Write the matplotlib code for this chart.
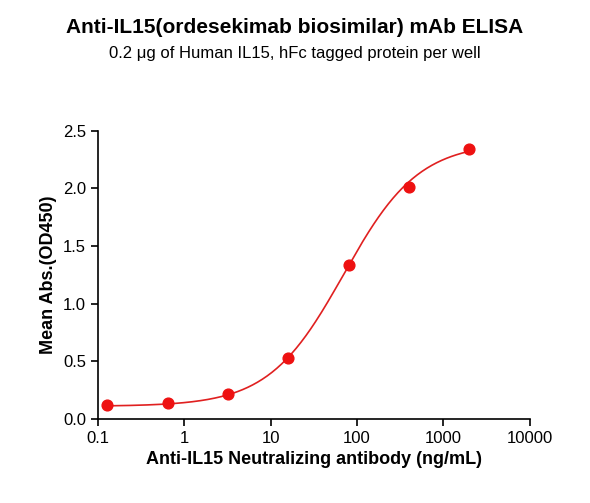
import numpy as np
import matplotlib
matplotlib.use('Agg')
import matplotlib.pyplot as plt

plt.rcParams['font.family'] = ['Liberation Sans', 'DejaVu Sans']

# data
conc = [0.128, 0.64, 3.2, 16, 80, 400, 2000]
absorb = [0.12, 0.14, 0.22, 0.53, 1.34, 2.01, 2.34]
# 4PL fit parameters (bottom, top, ec50, hill) estimated from the curve
fit_bottom, fit_top, fit_ec50, fit_hill = 0.11, 2.40, 70.0, 1.0

fig = plt.figure(figsize=(5.90, 5.03), dpi=100, facecolor='white')
ax = fig.add_axes([0.166, 0.167, 0.732, 0.573])

xs = np.logspace(np.log10(conc[0]), np.log10(conc[-1]), 300)
ys = fit_bottom + (fit_top - fit_bottom) / (1 + (fit_ec50 / xs) ** fit_hill)
ax.plot(xs, ys, color='#e02020', lw=1.2, zorder=2)
ax.scatter(conc, absorb, s=60, color='#ee1111', zorder=3)

ax.set_xscale('log')
ax.set_xlim(0.1, 10000)
ax.set_ylim(0, 2.5)
ax.set_xticks([0.1, 1, 10, 100, 1000, 10000])
ax.set_xticklabels(['0.1', '1', '10', '100', '1000', '10000'])
ax.set_yticks([0, 0.5, 1.0, 1.5, 2.0, 2.5])
ax.set_yticklabels(['0.0', '0.5', '1.0', '1.5', '2.0', '2.5'])
ax.minorticks_off()
ax.tick_params(labelsize=12, width=1.2, length=5)
for s in ['top', 'right']:
    ax.spines[s].set_visible(False)
for s in ['left', 'bottom']:
    ax.spines[s].set_linewidth(1.2)

ax.set_xlabel('Anti-IL15 Neutralizing antibody (ng/mL)', fontsize=13, fontweight='bold')
ax.set_ylabel('Mean Abs.(OD450)', fontsize=13, fontweight='bold')
fig.text(0.5, 0.935, 'Anti-IL15(ordesekimab biosimilar) mAb ELISA', ha='center',
         fontsize=15, fontweight='bold')
fig.text(0.5, 0.885, '0.2 \u03bcg of Human IL15, hFc tagged protein per well', ha='center',
         fontsize=12)

plt.savefig('out.png', dpi=100, facecolor='white')
